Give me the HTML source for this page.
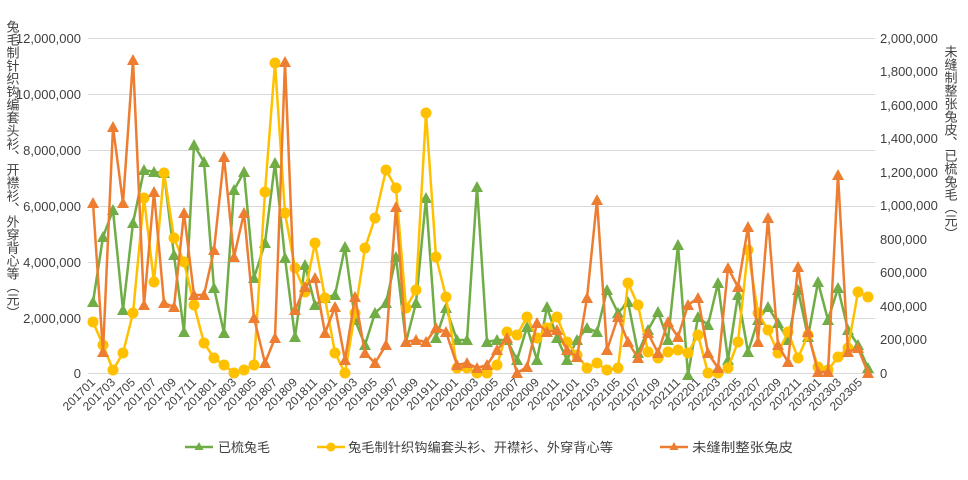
<!DOCTYPE html>
<html><head><meta charset="utf-8"><style>
body{margin:0;background:#fff;}
svg{display:block;font-family:"Liberation Sans","Noto Sans CJK SC",sans-serif;}
</style></head><body>
<svg width="968" height="480" viewBox="0 0 968 480" xmlns="http://www.w3.org/2000/svg">
<defs>
<marker id="tg" markerUnits="userSpaceOnUse" markerWidth="12" markerHeight="12" refX="6" refY="6" viewBox="0 0 12 12"><polygon points="6,0 12,11 0,11" fill="#70AD47"/></marker>
<marker id="to" markerUnits="userSpaceOnUse" markerWidth="12" markerHeight="12" refX="6" refY="6" viewBox="0 0 12 12"><polygon points="6,0 12,11 0,11" fill="#ED7D31"/></marker>
<marker id="cy" markerUnits="userSpaceOnUse" markerWidth="12" markerHeight="12" refX="6" refY="6" viewBox="0 0 12 12"><circle cx="6" cy="6" r="5.5" fill="#FFC000"/></marker>
</defs>
<g stroke="#d9d9d9" stroke-width="1">
<line x1="88" y1="38.5" x2="875" y2="38.5"/><line x1="88" y1="94.5" x2="875" y2="94.5"/><line x1="88" y1="150.5" x2="875" y2="150.5"/><line x1="88" y1="206.5" x2="875" y2="206.5"/><line x1="88" y1="262.5" x2="875" y2="262.5"/><line x1="88" y1="318.5" x2="875" y2="318.5"/><line x1="88" y1="373.5" x2="875" y2="373.5"/>
</g>
<g font-size="13" fill="#404040" text-anchor="end">
<text x="81" y="43">12,000,000</text><text x="81" y="99">10,000,000</text><text x="81" y="155">8,000,000</text><text x="81" y="211">6,000,000</text><text x="81" y="267">4,000,000</text><text x="81" y="323">2,000,000</text><text x="81" y="378">0</text>
</g>
<g font-size="13" fill="#404040">
<text x="880" y="43">2,000,000</text><text x="880" y="76">1,800,000</text><text x="880" y="110">1,600,000</text><text x="880" y="143">1,400,000</text><text x="880" y="177">1,200,000</text><text x="880" y="210">1,000,000</text><text x="880" y="244">800,000</text><text x="880" y="277">600,000</text><text x="880" y="311">400,000</text><text x="880" y="344">200,000</text><text x="880" y="378">0</text>
</g>
<text x="12" y="20" font-size="13" fill="#404040" style="writing-mode:vertical-rl;text-orientation:upright">兔毛制针织钩编套头衫、开襟衫、外穿背心等（元）</text>
<text x="950" y="45" font-size="13" fill="#404040" style="writing-mode:vertical-rl;text-orientation:upright">未缝制整张兔皮、已梳兔毛（元）</text>
<g fill="none" stroke-width="2.5" stroke-linejoin="round">
<polyline stroke="#70AD47" marker-start="url(#tg)" marker-mid="url(#tg)" marker-end="url(#tg)" points="93,302 103,237 113,210 123,310 133,223 144,170 154,172 164,173 174,255 184,332 194,145 204,162 214,288 224,333 234,190 244,172 254,278 265,243 275,163 285,258 295,337 305,265 315,305 325,298 335,295 345,247 355,320 365,345 375,313 386,303 396,257 406,342 416,303 426,198 436,338 446,308 457,340 467,340 477,187 487,342 497,340 507,340 517,360 527,327 537,360 547,307 557,338 567,360 577,340 587,328 597,332 607,290 618,313 628,302 638,353 648,330 658,312 668,340 678,245 688,375 698,317 708,325 718,283 728,360 738,295 748,352 758,320 768,307 778,323 788,340 798,290 808,337 818,282 828,320 838,288 848,330 858,345 868,368"/>
<polyline stroke="#FFC000" marker-start="url(#cy)" marker-mid="url(#cy)" marker-end="url(#cy)" points="93,322 103,345 113,370 123,353 133,313 144,198 154,282 164,173 174,238 184,262 194,305 204,343 214,358 224,365 234,373 244,370 254,365 265,192 275,63 285,213 295,268 305,292 315,243 325,298 335,353 345,373 355,313 365,248 375,218 386,170 396,188 406,308 416,290 426,113 436,257 446,297 457,368 467,368 477,373 487,373 497,365 507,332 517,335 527,317 537,338 547,328 557,317 567,342 577,355 587,368 597,363 607,370 618,368 628,283 638,305 648,352 658,358 668,352 678,350 688,353 698,335 708,373 718,373 728,368 738,342 748,250 758,313 768,330 778,353 788,332 798,358 808,335 818,367 828,370 838,357 848,348 858,292 868,297"/>
<polyline stroke="#ED7D31" marker-start="url(#to)" marker-mid="url(#to)" marker-end="url(#to)" points="93,203 103,352 113,127 123,203 133,60 144,305 154,192 164,303 174,307 184,213 194,295 204,295 214,250 224,157 234,257 244,213 254,318 265,363 275,338 285,62 295,310 305,287 315,278 325,333 335,307 345,360 355,297 365,353 375,363 386,345 396,207 406,342 416,340 426,342 436,328 446,332 457,365 467,363 477,368 487,365 497,350 507,338 517,373 527,367 537,323 547,332 557,330 567,350 577,357 587,298 597,200 607,350 618,317 628,342 638,358 648,333 658,353 668,322 678,337 688,305 698,298 708,353 718,368 728,268 738,287 748,227 758,342 768,218 778,345 788,362 798,267 808,332 818,372 828,372 838,175 848,352 858,348 868,373"/>
</g>
<g font-size="12" fill="#404040" text-anchor="end">
<text transform="translate(96,383) rotate(-45)">201701</text><text transform="translate(116,383) rotate(-45)">201703</text><text transform="translate(136,383) rotate(-45)">201705</text><text transform="translate(157,383) rotate(-45)">201707</text><text transform="translate(177,383) rotate(-45)">201709</text><text transform="translate(197,383) rotate(-45)">201711</text><text transform="translate(217,383) rotate(-45)">201801</text><text transform="translate(237,383) rotate(-45)">201803</text><text transform="translate(257,383) rotate(-45)">201805</text><text transform="translate(278,383) rotate(-45)">201807</text><text transform="translate(298,383) rotate(-45)">201809</text><text transform="translate(318,383) rotate(-45)">201811</text><text transform="translate(338,383) rotate(-45)">201901</text><text transform="translate(358,383) rotate(-45)">201903</text><text transform="translate(378,383) rotate(-45)">201905</text><text transform="translate(399,383) rotate(-45)">201907</text><text transform="translate(419,383) rotate(-45)">201909</text><text transform="translate(439,383) rotate(-45)">201911</text><text transform="translate(459,383) rotate(-45)">202001</text><text transform="translate(479,383) rotate(-45)">202003</text><text transform="translate(499,383) rotate(-45)">202005</text><text transform="translate(520,383) rotate(-45)">202007</text><text transform="translate(540,383) rotate(-45)">202009</text><text transform="translate(560,383) rotate(-45)">202011</text><text transform="translate(580,383) rotate(-45)">202101</text><text transform="translate(600,383) rotate(-45)">202103</text><text transform="translate(621,383) rotate(-45)">202105</text><text transform="translate(641,383) rotate(-45)">202107</text><text transform="translate(661,383) rotate(-45)">202109</text><text transform="translate(681,383) rotate(-45)">202111</text><text transform="translate(701,383) rotate(-45)">202201</text><text transform="translate(721,383) rotate(-45)">202203</text><text transform="translate(742,383) rotate(-45)">202205</text><text transform="translate(762,383) rotate(-45)">202207</text><text transform="translate(782,383) rotate(-45)">202209</text><text transform="translate(802,383) rotate(-45)">202211</text><text transform="translate(822,383) rotate(-45)">202301</text><text transform="translate(842,383) rotate(-45)">202303</text><text transform="translate(863,383) rotate(-45)">202305</text>
</g>
<g stroke-width="2.5">
<line x1="185" y1="447" x2="213" y2="447" stroke="#70AD47"/><polygon points="199,442 203.5,450 194.5,450" fill="#70AD47"/>
<line x1="317" y1="447" x2="345" y2="447" stroke="#FFC000"/><circle cx="331" cy="447" r="4.5" fill="#FFC000"/>
<line x1="660" y1="447" x2="688" y2="447" stroke="#ED7D31"/><polygon points="674,442 678.5,450 669.5,450" fill="#ED7D31"/>
</g>
<g font-size="13" fill="#404040">
<text x="218" y="452" textLength="52" lengthAdjust="spacingAndGlyphs">已梳兔毛</text>
<text x="348" y="452" textLength="265" lengthAdjust="spacingAndGlyphs">兔毛制针织钩编套头衫、开襟衫、外穿背心等</text>
<text x="692" y="452" textLength="101" lengthAdjust="spacingAndGlyphs">未缝制整张兔皮</text>
</g>
</svg>
</body></html>
